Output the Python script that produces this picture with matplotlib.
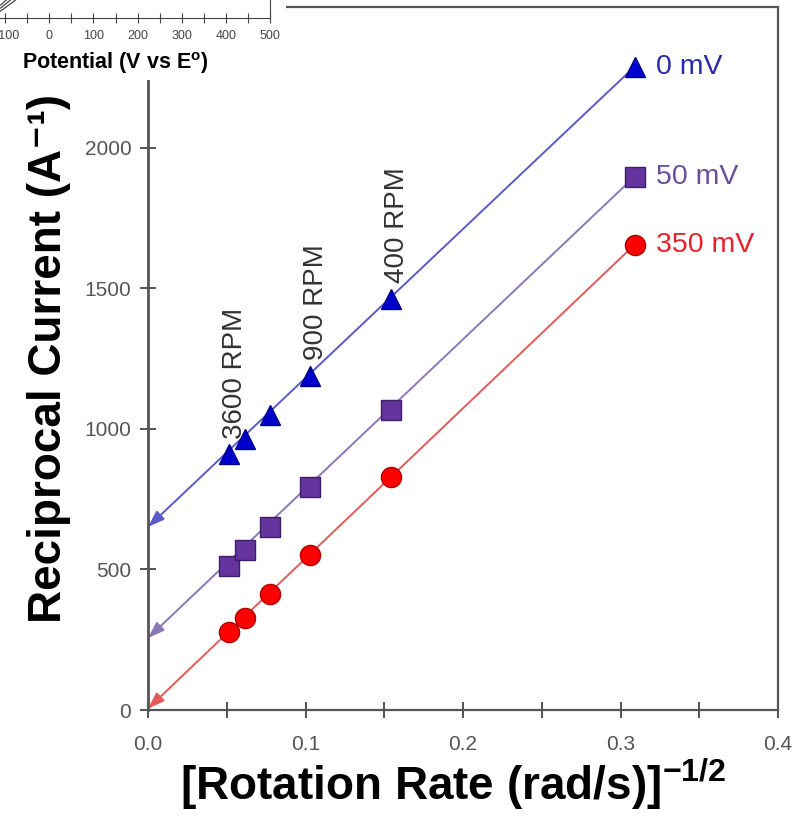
import matplotlib
matplotlib.use("Agg")
import matplotlib.pyplot as plt
from matplotlib.patches import Rectangle
from matplotlib.ticker import MultipleLocator

plt.rcParams['font.family'] = ['Liberation Sans', 'DejaVu Sans']
plt.rcParams['mathtext.fontset'] = 'custom'
plt.rcParams['mathtext.rm'] = 'Liberation Sans'
plt.rcParams['mathtext.bf'] = 'Liberation Sans:bold'
plt.rcParams['mathtext.it'] = 'Liberation Sans:italic'

# ---- data ----
x_vals = [0.0515, 0.0618, 0.0773, 0.103, 0.1545, 0.309]
i_0mV = [911, 964, 1050, 1189, 1463, 2288]
i_50mV = [512, 569, 651, 794, 1068, 1897]
i_350mV = [278, 327, 413, 552, 829, 1655]
intercepts = [651, 256, 5]
series_names = ['0 mV', '50 mV', '350 mV']
rpm_labels = ['3600 RPM', '900 RPM', '400 RPM']
rpm_x = [0.0515, 0.103, 0.1545]
rpm_y = [911, 1189, 1463]
x_ticks = [0.0, 0.1, 0.2, 0.3, 0.4]
y_ticks = [0, 500, 1000, 1500, 2000]

# inset (cropped neighbouring chart)
inset_ticks = [-100, 0, 100, 200, 300, 400, 500]
inset_curve_x = [-200, -110, -55]
inset_curves_y = [[-0.05, 0.07, 0.25], [-0.02, 0.10, 0.30], [0.0, 0.13, 0.35]]

W, H = 798, 816
fig = plt.figure(figsize=(W / 100, H / 100), dpi=100)
ax = fig.add_axes([148 / W, (H - 710) / H, (778 - 148) / W, (710 - 7) / H])

marker_colors = ['#0000CC', '#65349C', '#FF0000']
edge_colors = ['#00008A', '#3C1F66', '#B00000']
line_colors = ['#5A5AC8', '#8A78B8', '#E25A5A']
text_colors = ['#2A2AA8', '#6A4E9E', '#E8202A']
markers = ['^', 's', 'o']
all_series = [i_0mV, i_50mV, i_350mV]

for ys, name, mc, ec, lc, tc, mk, b in zip(all_series, series_names, marker_colors,
                                          edge_colors, line_colors, text_colors,
                                          markers, intercepts):
    ax.annotate('', xy=(0, b), xytext=(x_vals[-1], ys[-1]),
                arrowprops=dict(arrowstyle='-|>,head_length=1.0,head_width=0.35',
                                color=lc, lw=1.4, shrinkA=0, shrinkB=0),
                zorder=2)
    ax.plot(x_vals, ys, linestyle='none', marker=mk, markersize=14.5,
            markerfacecolor=mc, markeredgecolor=ec, markeredgewidth=1.0, zorder=3,
            clip_on=False)
    ax.annotate(name, xy=(x_vals[-1], ys[-1]), xytext=(15, 0),
                textcoords='offset points', ha='left', va='center',
                fontsize=20.5, color=tc)

for lab, rx, ry in zip(rpm_labels, rpm_x, rpm_y):
    ax.annotate(lab, xy=(rx, ry), xytext=(4, 11), textcoords='offset points',
                rotation=90, ha='center', va='bottom', fontsize=20, color='#333333')

ax.set_xlim(0, 0.4)
ax.set_ylim(0, 2500)
ax.set_xticks(x_ticks)
ax.set_xticklabels([f'{t:.1f}' for t in x_ticks])
ax.xaxis.set_minor_locator(MultipleLocator(0.05))
ax.set_yticks(y_ticks)
ax.tick_params(axis='x', which='both', direction='inout', length=12, width=1.3,
               color='#444444', labelcolor='#555555', labelsize=15, pad=12)
ax.tick_params(axis='y', which='both', direction='inout', length=12, width=1.3,
               color='#444444', labelcolor='#555555', labelsize=15, pad=6)
for s in ['left', 'bottom', 'right', 'top']:
    ax.spines[s].set_color('#555555')
ax.spines['left'].set_linewidth(2.0)
ax.spines['bottom'].set_linewidth(1.6)
ax.spines['right'].set_linewidth(1.6)
ax.spines['top'].set_linewidth(1.6)

ax.set_ylabel('Reciprocal Current (A\u207b\u00b9)', fontsize=33,
              fontweight='bold', labelpad=10)
ax.set_xlabel(r'[Rotation Rate (rad/s)]$^{\mathbf{-1/2}}$', fontsize=33,
              fontweight='bold')
ax.xaxis.set_label_coords(0.485, -0.066)

# white patch hiding the corner, and the cropped neighbour chart
fig.patches.append(Rectangle((0, (H - 80) / H), 286 / W, 80 / H,
                             transform=fig.transFigure, facecolor='white',
                             edgecolor='none', zorder=4))
iax = fig.add_axes([-39 / W, (H - 18) / H, (270 + 39) / W, 100 / H])
iax.set_zorder(5)
iax.set_xlim(-200, 500)
iax.set_ylim(0, 1)
for cy in inset_curves_y:
    iax.plot(inset_curve_x, cy, color='#333333', lw=0.8)
iax.set_xticks(inset_ticks)
iax.xaxis.set_minor_locator(MultipleLocator(50))
iax.set_yticks([])
iax.tick_params(axis='x', which='both', direction='inout', length=7, width=0.8,
                color='#444444', labelcolor='#444444', labelsize=9, pad=5)
iax.spines['top'].set_visible(False)
iax.spines['left'].set_visible(False)
iax.spines['bottom'].set_color('#444444')
iax.spines['right'].set_color('#444444')
iax.set_xlabel('Potential (V vs E$^{\\mathbf{o}}$)', fontsize=15.5, fontweight='bold',
               labelpad=6)

fig.savefig('out.png', dpi=100)
